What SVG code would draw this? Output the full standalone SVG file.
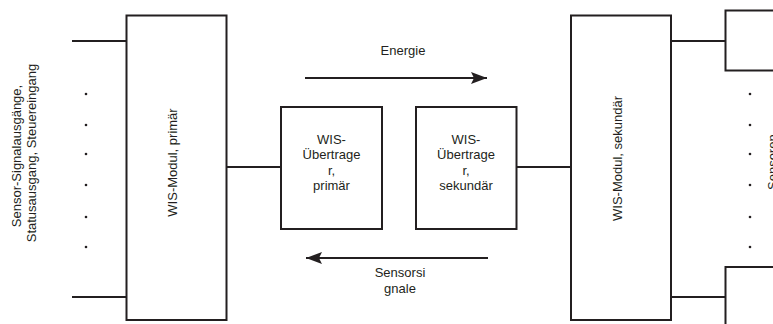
<svg xmlns="http://www.w3.org/2000/svg" width="773" height="324" viewBox="0 0 773 324">
<style>
.box{fill:#fff;stroke:#231f20;stroke-width:2}
.ln{fill:none;stroke:#231f20;stroke-width:2}
text{font-family:"Liberation Sans",Arial,sans-serif;font-size:13px;fill:#231f20}
.c{text-anchor:middle}
.dot{fill:#231f20}
</style>
<defs>
<marker id="ah" markerWidth="16" markerHeight="12" refX="16" refY="6" orient="auto" markerUnits="userSpaceOnUse">
<path d="M0,0 L16,6 L0,12 L3,6 Z" fill="#231f20"/>
</marker>
</defs>
<rect width="773" height="324" fill="#fff"/>
<g id="connectors">
<path class="ln" d="M72,41 H126.5"/>
<path class="ln" d="M72,297 H126.5"/>
<path class="ln" d="M226.5,167 H281"/>
<path class="ln" d="M516.5,167 H571"/>
<path class="ln" d="M671,41 H725.5"/>
<path class="ln" d="M671,297 H725.5"/>
<path class="ln" d="M305,78 H487" marker-end="url(#ah)"/>
<path class="ln" d="M488,258 H306" marker-end="url(#ah)"/>
</g>
<g id="inputs-label">
<text class="c" transform="translate(21,156) rotate(-90)">Sensor-Signalausgänge,</text>
<text class="c" transform="translate(36,153) rotate(-90)">Statusausgang, Steuereingang</text>
</g>
<g id="dots-left">
<circle class="dot" cx="86" cy="94" r="1.3"/>
<circle class="dot" cx="86" cy="125" r="1.3"/>
<circle class="dot" cx="86" cy="154" r="1.3"/>
<circle class="dot" cx="86" cy="185" r="1.3"/>
<circle class="dot" cx="86" cy="217" r="1.3"/>
<circle class="dot" cx="86" cy="247" r="1.3"/>
</g>
<g id="wis-modul-primaer">
<rect class="box" x="126.5" y="15.5" width="100" height="304.5"/>
<text class="c" transform="translate(177,162.5) rotate(-90)">WIS-Modul, primär</text>
</g>
<g id="uebertrager-primaer">
<rect class="box" x="281" y="107" width="101" height="122"/>
<text class="c" x="331.5" y="143.5">WIS-</text>
<text class="c" x="331.5" y="159">Übertrage</text>
<text class="c" x="331.5" y="174.5">r,</text>
<text class="c" x="331.5" y="190">primär</text>
</g>
<g id="uebertrager-sekundaer">
<rect class="box" x="416" y="107" width="100.5" height="122"/>
<text class="c" x="466" y="143.5">WIS-</text>
<text class="c" x="466" y="159">Übertrage</text>
<text class="c" x="466" y="174.5">r,</text>
<text class="c" x="466" y="190">sekundär</text>
</g>
<g id="energie-label">
<text class="c" x="403" y="54.5">Energie</text>
</g>
<g id="sensorsignale-label">
<text class="c" x="400" y="276.5">Sensorsi</text>
<text class="c" x="400" y="292.5">gnale</text>
</g>
<g id="wis-modul-sekundaer">
<rect class="box" x="571" y="15.5" width="100" height="304.5"/>
<text class="c" transform="translate(622,158.5) rotate(-90)">WIS-Modul, sekundär</text>
</g>
<g id="sensor-oben">
<rect class="box" x="725.5" y="10.5" width="60" height="60"/>
</g>
<g id="sensor-unten">
<rect class="box" x="725.5" y="267" width="60" height="70"/>
</g>
<g id="dots-right">
<circle class="dot" cx="750" cy="94" r="1.3"/>
<circle class="dot" cx="750" cy="125" r="1.3"/>
<circle class="dot" cx="750" cy="154" r="1.3"/>
<circle class="dot" cx="750" cy="185" r="1.3"/>
<circle class="dot" cx="750" cy="217" r="1.3"/>
<circle class="dot" cx="750" cy="247" r="1.3"/>
</g>
<g id="sensoren-label">
<text transform="translate(777,190) rotate(-90)">Sensoren</text>
</g>
</svg>
